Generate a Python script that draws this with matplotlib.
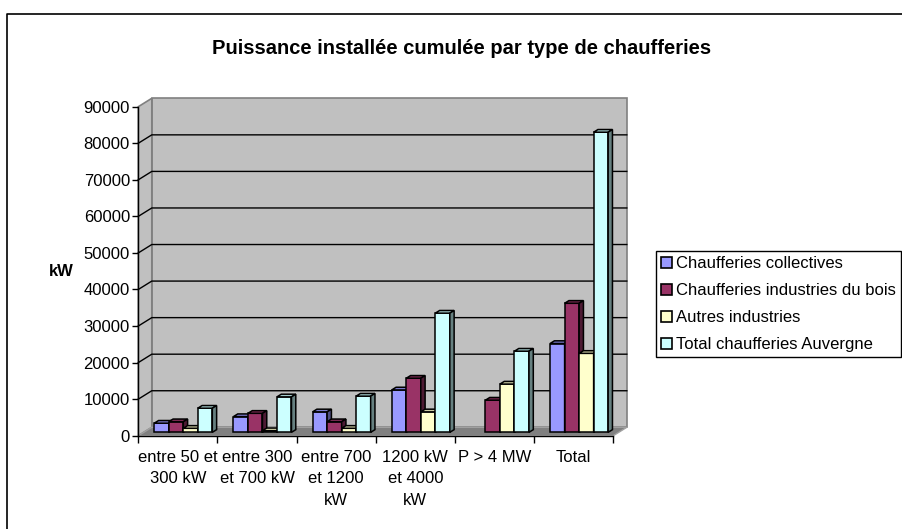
import matplotlib
matplotlib.use("Agg")
import matplotlib.pyplot as plt
from matplotlib.patches import Polygon, Patch
from matplotlib.lines import Line2D
import numpy as np

plt.rcParams["font.family"] = ["Liberation Sans", "DejaVu Sans"]

categories = ["entre 50 et\n300 kW", "entre 300\net 700 kW", "entre 700\net 1200\nkW",
              "1200 kW\net 4000\nkW", "P > 4 MW", "Total"]
series_names = ["Chaufferies collectives", "Chaufferies industries du bois",
                "Autres industries", "Total chaufferies Auvergne"]
collectives = [2500, 4300, 5600, 11600, 0, 24300]
industries_bois = [2900, 5200, 2900, 14800, 8800, 35300]
autres = [1100, 440, 1100, 5600, 13200, 21600]
total_auvergne = [6600, 9700, 9900, 32600, 22200, 82100]
yticks = list(range(0, 90001, 10000))

series = [collectives, industries_bois, autres, total_auvergne]
colors = ["#9999FF", "#993366", "#FFFFCC", "#CCFFFF"]

W, H = 902, 529
fig = plt.figure(figsize=(W / 100, H / 100), dpi=100)
# front plane of the 3D plot box, in pixels
px_l, px_r, px_b, px_t = 138.3, 613.3, 435.7, 106.7
ax = fig.add_axes([px_l / W, 1 - px_b / H, (px_r - px_l) / W, (px_b - px_t) / H])
ymax = 90000
n = len(categories)
ax.set_xlim(0, n)
ax.set_ylim(0, ymax)
ax.patch.set_visible(False)

# depth offset of the back wall, in data units
DX = 13.5 / (px_r - px_l) * n
DY = 8.4 / (px_b - px_t) * ymax


def shade(c, f):
    r, g, b = matplotlib.colors.to_rgb(c)
    return (r * f, g * f, b * f)


# walls and floor
back = Polygon([(DX, DY), (n + DX, DY), (n + DX, ymax + DY), (DX, ymax + DY)],
               closed=True, fc="#C0C0C0", ec="#808080", lw=1.2, clip_on=False, zorder=0.5)
side = Polygon([(0, 0), (DX, DY), (DX, ymax + DY), (0, ymax)],
               closed=True, fc="#C0C0C0", ec="#808080", lw=1.2, clip_on=False, zorder=0.5)
floor = Polygon([(0, 0), (n, 0), (n + DX, DY), (DX, DY)],
                closed=True, fc="#808080", ec="#A0A0A0", lw=1, clip_on=False, zorder=0.7)
for p in (back, side, floor):
    ax.add_patch(p)
for v in yticks[1:-1]:
    ax.plot([0, DX, n + DX], [v, v + DY, v + DY], color="black", lw=1,
            clip_on=False, zorder=0.6)

# bars
w = 0.1833
g0 = (1 - 4 * w) / 2
D0, BD = 0.4, 0.32
xs = np.arange(n)
for j, (vals, c) in enumerate(zip(series, colors)):
    x0 = xs + g0 + j * w + D0 * DX
    b = D0 * DY
    ax.bar(x0, vals, width=w, bottom=b, align="edge", color=c, edgecolor="black",
           lw=[1.1 if v > 0 else 0 for v in vals], zorder=2 + j * 0.01)
for i in range(n):
    for j, (vals, c) in enumerate(zip(series, colors)):
        v = vals[i]
        if v <= 0:
            continue
        x0 = i + g0 + j * w + D0 * DX
        b = D0 * DY
        top = Polygon([(x0, b + v), (x0 + w, b + v), (x0 + w + BD * DX, b + v + BD * DY),
                       (x0 + BD * DX, b + v + BD * DY)], closed=True,
                      fc=shade(c, 0.8), ec="black", lw=1.1, zorder=2 + j * 0.01, clip_on=False)
        sd = Polygon([(x0 + w, b), (x0 + w + BD * DX, b + BD * DY),
                      (x0 + w + BD * DX, b + v + BD * DY), (x0 + w, b + v)], closed=True,
                     fc=shade(c, 0.5), ec="black", lw=1.1, zorder=2 + j * 0.01, clip_on=False)
        ax.add_patch(top)
        ax.add_patch(sd)

# axes
for s in ("top", "right"):
    ax.spines[s].set_visible(False)
for s in ("left", "bottom"):
    ax.spines[s].set_color("black")
    ax.spines[s].set_linewidth(1)
ax.set_yticks(yticks)
ax.set_yticklabels([str(v) for v in yticks])
ax.tick_params(axis="y", length=4, width=1, pad=2, labelsize=12)
ax.set_xticks(range(n + 1))
ax.set_xticklabels([])
ax.set_xticks(xs + 0.5, minor=True)
ax.set_xticklabels(categories, minor=True, linespacing=1.55)
ax.tick_params(axis="x", which="major", length=5, width=1, direction="out")
ax.tick_params(axis="x", which="minor", length=0, pad=10, labelsize=12)

fig.text(61 / W, 1 - 271 / H, "kW", fontsize=12, fontweight="bold", ha="center", va="center")
fig.text(462 / W, 1 - 49 / H, "Puissance installée cumulée par type de chaufferies",
         fontsize=14.5, fontweight="bold", ha="center", va="center")

handles = [Patch(fc=c, ec="black", lw=1.2) for c in colors]
leg = fig.legend(handles, series_names, loc="upper left",
                 bbox_to_anchor=(656 / W, 1 - 251 / H), fontsize=12, frameon=True,
                 fancybox=False, edgecolor="black", framealpha=1, borderpad=0.3,
                 handlelength=0.65, handleheight=0.65, handletextpad=0.28, labelspacing=0.72,
                 borderaxespad=0)
leg.get_frame().set_linewidth(1)

# outer chart border (only top and left edges fall inside the picture)
fig.add_artist(Line2D([7 / W, 7 / W, 1], [0, 1 - 14 / H, 1 - 14 / H], color="black",
                      lw=1.2, transform=fig.transFigure))

fig.savefig("out.png", dpi=100)
